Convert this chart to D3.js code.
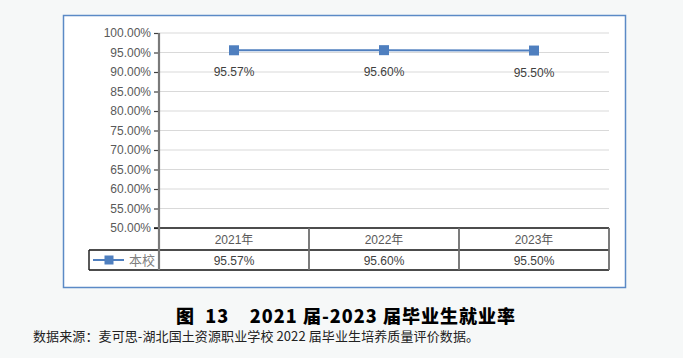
<!DOCTYPE html>
<html><head><meta charset="utf-8">
<script src="https://cdn.jsdelivr.net/npm/d3@7"></script>
<style>
html,body{margin:0;padding:0;background:#f6f8f8;}
svg{display:block;}
</style></head>
<body>
<svg id="chart" width="683" height="358"></svg>
<script>
const categories = ["2021年", "2022年", "2023年"];
const seriesName = "本校";
const values = [0.9557, 0.9560, 0.9550];
const valueLabels = ["95.57%", "95.60%", "95.50%"];
const yTicks = [0.50,0.55,0.60,0.65,0.70,0.75,0.80,0.85,0.90,0.95,1.00];
const titleText = "图  13    2021 届-2023 届毕业生就业率";
const sourceText = "数据来源：麦可思-湖北国土资源职业学校 2022 届毕业生培养质量评价数据。";

(function(){
const svg = d3.select("#chart");
const font = "'Liberation Sans','Noto Sans CJK SC',sans-serif";
const cjk = "'Noto Sans CJK SC',sans-serif";
const blue = "#4f7fbf";

svg.append("rect").attr("x",63.5).attr("y",15.5).attr("width",562).attr("height",272)
  .attr("fill","#fff").attr("stroke","#5b8ac6").attr("stroke-width",1.5);

const pL = 159, pR = 609, pT = 33, pB = 228;
const rowH = 21;
const x = d3.scaleBand().domain(categories).range([pL,pR]);
const y = d3.scaleLinear().domain([0.5,1]).range([pB,pT]);

svg.append("g").selectAll("line").data(yTicks.slice(1)).join("line")
  .attr("x1",pL).attr("x2",pR).attr("y1",d=>y(d)).attr("y2",d=>y(d))
  .attr("stroke","#d9d9d9").attr("stroke-width",1.2);

const yAxis = svg.append("g").attr("transform",`translate(${pL},0)`)
  .call(d3.axisLeft(y).tickValues(yTicks).tickFormat(d3.format(".2%")).tickSize(5).tickPadding(3));
yAxis.select(".domain").remove();
yAxis.selectAll(".tick line").attr("stroke","#404040").attr("stroke-width",1.2);
yAxis.selectAll(".tick text").attr("fill","#595959").style("font-family",font).style("font-size","12px");

const t = svg.append("g");
const tableTop = pB, row1 = pB + rowH + 1, row2 = pB + 2*rowH;
t.append("line").attr("x1",pL-5).attr("x2",pR).attr("y1",tableTop).attr("y2",tableTop).attr("stroke","#111").attr("stroke-width",1.5);
t.append("line").attr("x1",89).attr("x2",pR).attr("y1",row1).attr("y2",row1).attr("stroke","#111").attr("stroke-width",1.5);
t.append("line").attr("x1",89).attr("x2",pR).attr("y1",row2).attr("y2",row2).attr("stroke","#111").attr("stroke-width",1.5);
t.append("line").attr("x1",89).attr("x2",89).attr("y1",row1).attr("y2",row2).attr("stroke","#222").attr("stroke-width",1.5);
const dividers = categories.map(c=>x(c)+x.bandwidth()).slice(0,-1);
t.selectAll("line.div").data(dividers).join("line").attr("class","div")
  .attr("x1",d=>d).attr("x2",d=>d).attr("y1",tableTop).attr("y2",row2).attr("stroke","#6e6e6e").attr("stroke-width",1.8);
t.append("line").attr("x1",pR).attr("x2",pR).attr("y1",tableTop).attr("y2",row2).attr("stroke","#6e6e6e").attr("stroke-width",1.8);
t.append("line").attr("x1",pL).attr("x2",pL).attr("y1",pT).attr("y2",row2).attr("stroke","#7a7a7a").attr("stroke-width",2.2);

t.selectAll("text.hdr").data(categories).join("text").attr("class","hdr")
  .attr("x",d=>x(d)+x.bandwidth()/2).attr("y",tableTop+16).attr("text-anchor","middle")
  .attr("fill","#595959").style("font-family",font).style("font-size","12px").text(d=>d);
t.selectAll("text.val").data(values).join("text").attr("class","val")
  .attr("x",(d,i)=>x(categories[i])+x.bandwidth()/2).attr("y",row1+15).attr("text-anchor","middle")
  .attr("fill","#404040").style("font-family",font).style("font-size","12px").text((d,i)=>valueLabels[i]);
const ly = (row1+row2)/2;
t.append("line").attr("x1",93).attr("x2",124).attr("y1",ly).attr("y2",ly).attr("stroke",blue).attr("stroke-width",2);
t.append("rect").attr("x",104.5).attr("y",ly-4.5).attr("width",9).attr("height",9).attr("fill",blue);
t.append("text").attr("x",129).attr("y",ly+5).attr("fill","#7f7f7f").style("font-family",cjk).style("font-size","13px").text(seriesName);

const line = d3.line().x((d,i)=>x(categories[i])+x.bandwidth()/2).y(d=>y(d));
svg.append("path").datum(values).attr("d",line).attr("fill","none").attr("stroke",blue).attr("stroke-width",2);
svg.append("g").selectAll("rect").data(values).join("rect")
  .attr("x",(d,i)=>x(categories[i])+x.bandwidth()/2-5).attr("y",d=>y(d)-5)
  .attr("width",10).attr("height",10).attr("fill",blue);
svg.append("g").selectAll("text").data(values).join("text")
  .attr("x",(d,i)=>x(categories[i])+x.bandwidth()/2).attr("y",d=>y(d)+26).attr("text-anchor","middle")
  .attr("fill","#404040").style("font-family",font).style("font-size","12px").text((d,i)=>valueLabels[i]);

svg.append("text").attr("x",176).attr("y",323).attr("textLength",339).attr("lengthAdjust","spacing")
  .attr("fill","#000").style("font-family",cjk).style("font-weight","900").style("font-size","18px")
  .style("white-space","pre").text(titleText);
svg.append("text").attr("x",33).attr("y",341).attr("textLength",446).attr("lengthAdjust","spacing")
  .attr("fill","#222").style("font-family",cjk).style("font-size","13px").text(sourceText);
})();
</script>
</body></html>
